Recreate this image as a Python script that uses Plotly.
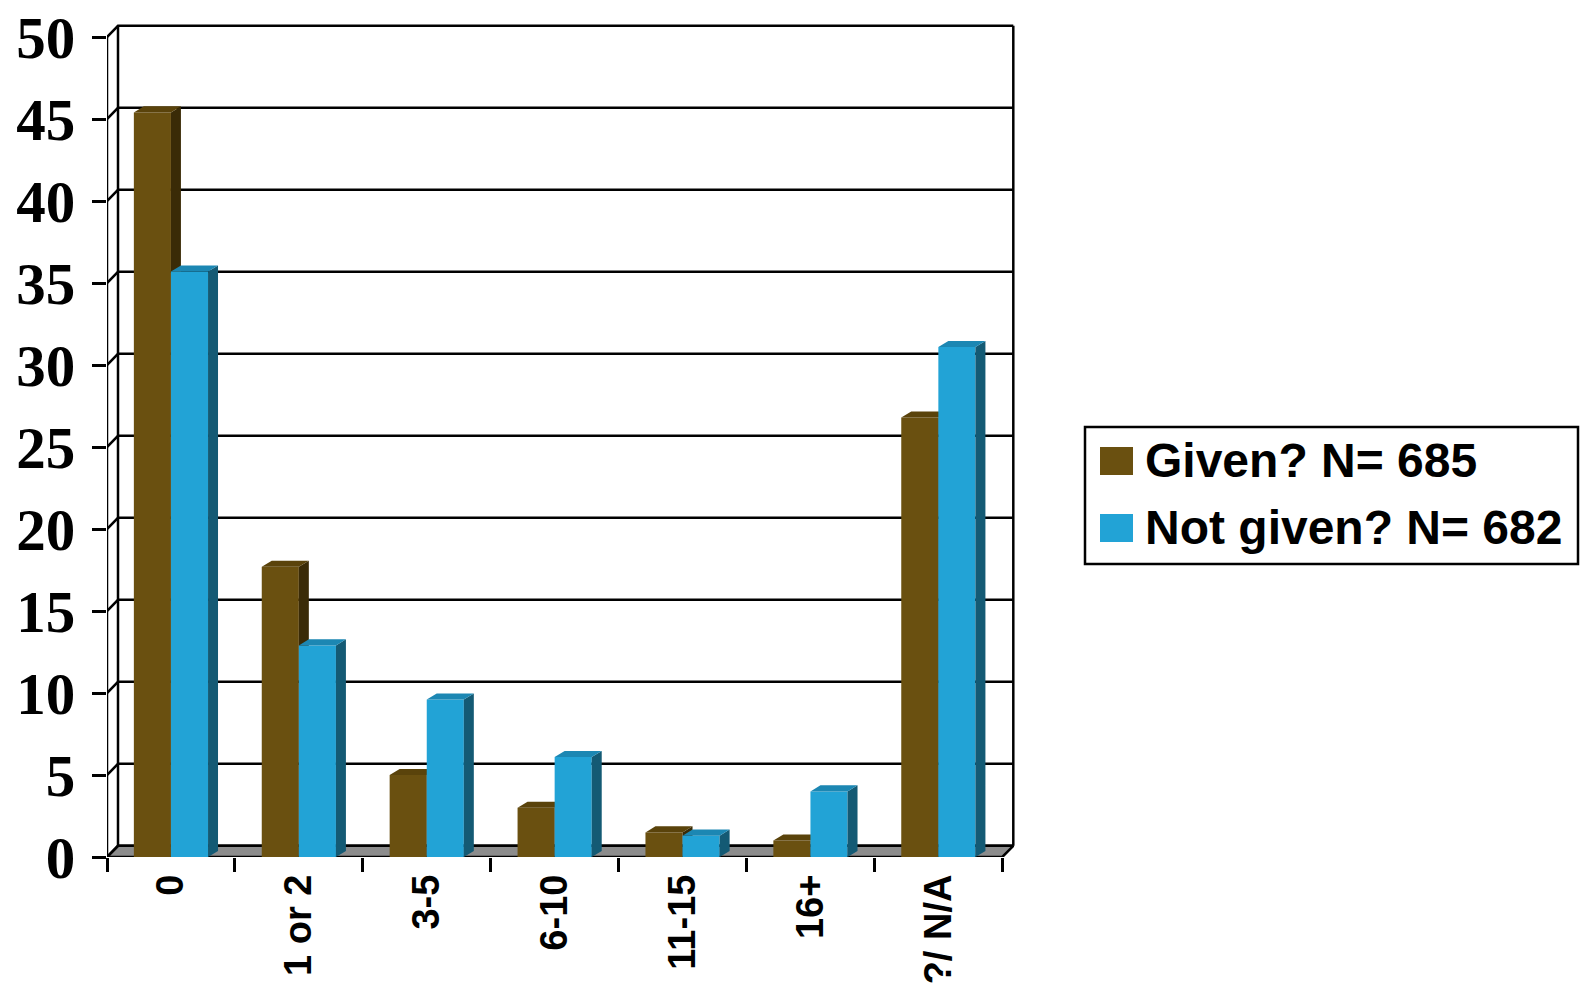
import plotly.graph_objects as go

categories = ["0", "1 or 2", "3-5", "6-10", "11-15", "16+", "?/ N/A"]
given = [45.4, 17.7, 5.0, 3.0, 1.5, 1.0, 26.8]
not_given = [35.7, 12.9, 9.6, 6.1, 1.3, 4.0, 31.1]
series_names = ["Given? N= 685", "Not given? N= 682"]
y_ticks = [0, 5, 10, 15, 20, 25, 30, 35, 40, 45, 50]

# styling
front_cols = ["#6A5010", "#22A3D6"]
top_cols = ["#5A430B", "#1C87B3"]
side_cols = ["#3A2B07", "#145A74"]
BW = 0.29              # bar width (category units)
DX, DY = 0.078, 0.37   # bar 3-D depth offset
WX, WY = 0.086, 0.68   # wall depth offset
n = len(categories)
xs = list(range(n))

# plot-area pixel geometry (used for paper coords of the legend)
L, R, T, B = 107, 1027, 17, 857
W_PX, H_PX = R - L, B - T
def px(xp):
    return (xp - L) / W_PX
def py(yp):
    return (B - yp) / H_PX

fig = go.Figure()

# floor, back wall gridlines, front axis line
fig.add_trace(go.Scatter(x=[-0.5, n - 0.5, n - 0.5 + WX, -0.5 + WX, -0.5],
                         y=[0, 0, WY, WY, 0], fill="toself", fillcolor="#8C8C8C",
                         mode="lines", line=dict(color="black", width=2.5),
                         showlegend=False, hoverinfo="skip", zorder=0))
gx, gy = [], []
for v in y_ticks:
    gx += [-0.5, -0.5 + WX, n - 0.5 + WX, None]
    gy += [v, v + WY, v + WY, None]
gx += [-0.5 + WX, -0.5 + WX, None, n - 0.5 + WX, n - 0.5 + WX, None]
gy += [WY, y_ticks[-1] + WY, None, WY, y_ticks[-1] + WY, None]
fig.add_trace(go.Scatter(x=gx, y=gy, mode="lines", line=dict(color="black", width=2.5),
                         showlegend=False, hoverinfo="skip", zorder=0))
fig.add_trace(go.Scatter(x=[-0.5, -0.5], y=[0, y_ticks[-1]], mode="lines",
                         line=dict(color="black", width=2.5),
                         showlegend=False, hoverinfo="skip", zorder=0))

offsets = [-BW, 0.0]
for k, vals in enumerate([given, not_given]):
    fig.add_trace(go.Bar(x=xs, y=vals, name=series_names[k], offset=offsets[k], width=BW,
                         marker=dict(color=front_cols[k], line=dict(width=0)),
                         showlegend=False, zorder=2 * k + 1))
    sx, sy, tx, ty = [], [], [], []
    for i, v in enumerate(vals):
        x0 = i + offsets[k]
        x1 = x0 + BW
        sx += [x1, x1 + DX, x1 + DX, x1, x1, None]
        sy += [0, DY, v + DY, v, 0, None]
        tx += [x0, x0 + DX, x1 + DX, x1, x0, None]
        ty += [v, v + DY, v + DY, v, v, None]
    fig.add_trace(go.Scatter(x=sx, y=sy, fill="toself", fillcolor=side_cols[k], mode="lines",
                             line=dict(width=0, color=side_cols[k]), showlegend=False,
                             hoverinfo="skip", zorder=2 * k + 2))
    fig.add_trace(go.Scatter(x=tx, y=ty, fill="toself", fillcolor=top_cols[k], mode="lines",
                             line=dict(width=0, color=top_cols[k]), showlegend=False,
                             hoverinfo="skip", zorder=2 * k + 2))

# legend (box, swatches and text)
shapes = [dict(type="rect", xref="paper", yref="paper", x0=px(1085), x1=px(1578),
               y0=py(564), y1=py(427), line=dict(color="black", width=2.5),
               fillcolor="white")]
annotations = []
row_y = [461, 528]
for k in range(2):
    shapes.append(dict(type="rect", xref="paper", yref="paper", x0=px(1100), x1=px(1133),
                       y0=py(row_y[k] + 14), y1=py(row_y[k] - 14), line=dict(width=0),
                       fillcolor=front_cols[k]))
    annotations.append(dict(xref="paper", yref="paper", x=px(1143), y=py(row_y[k] - 1),
                            xanchor="left", yanchor="middle", showarrow=False,
                            text=series_names[k],
                            font=dict(family="Liberation Sans", size=48, color="black",
                                      weight="bold")))

fig.update_layout(
    width=1585, height=992,
    margin=dict(l=L, r=1585 - R, t=T, b=992 - B, autoexpand=False),
    plot_bgcolor="white", paper_bgcolor="white",
    barmode="overlay",
    showlegend=False,
    shapes=shapes, annotations=annotations,
    xaxis=dict(range=[-0.5, -0.5 + W_PX / 127.9], tickmode="array", tickvals=xs,
               ticktext=categories, tickangle=-90, ticks="", showgrid=False, zeroline=False,
               showline=False, ticklabelstandoff=9, automargin=False,
               tickfont=dict(family="Liberation Sans", size=38, color="black", weight="bold"),
               minor=dict(tickmode="linear", tick0=-0.5, dtick=1, ticks="outside", ticklen=14,
                          tickwidth=2.5, tickcolor="black", showgrid=False)),
    yaxis=dict(range=[0, H_PX / 16.4], tickmode="array", tickvals=y_ticks, ticks="outside",
               ticklen=14, tickwidth=2.5, tickcolor="black", showgrid=False, zeroline=False,
               showline=False, ticklabelstandoff=5, automargin=False,
               tickfont=dict(family="Liberation Serif", size=59, color="black", weight="bold")),
)

fig.write_html("out.html")
